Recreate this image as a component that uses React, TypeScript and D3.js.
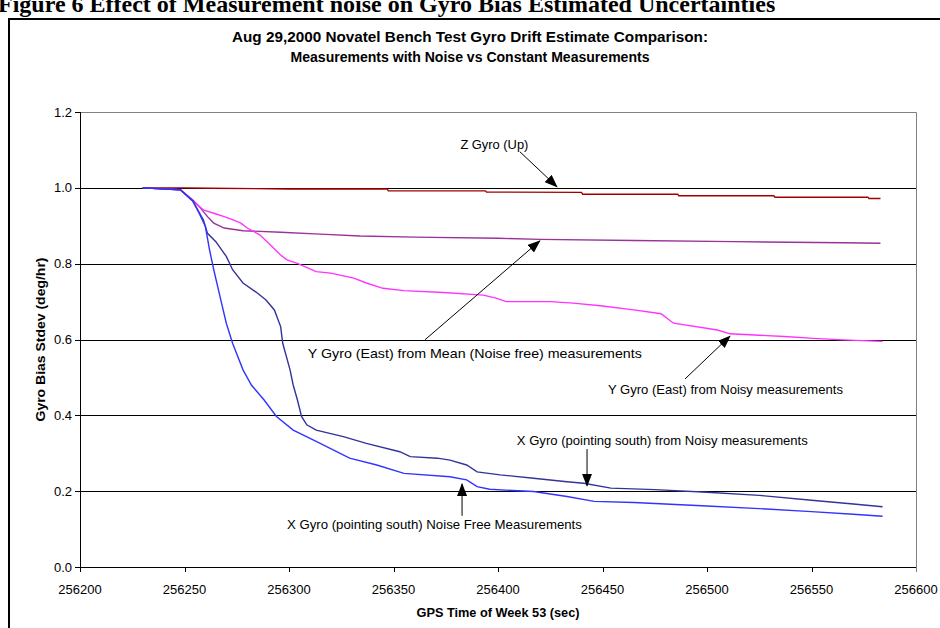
import React from "react";
import * as d3 from "d3";

const xTicks = [256200, 256250, 256300, 256350, 256400, 256450, 256500, 256550, 256600];
const yTicks = [0, 0.2, 0.4, 0.6, 0.8, 1.0, 1.2];

const zGyro: [number, number][] = [
  [256230, 1.0], [256250, 1.0], [256262, 0.999], [256300, 0.997], [256347, 0.997], [256347.5, 0.992],
  [256394, 0.992], [256394.5, 0.989], [256440, 0.988], [256440.5, 0.983], [256486, 0.983], [256486.5, 0.979],
  [256532, 0.979], [256532.5, 0.975], [256577, 0.975], [256577.5, 0.972], [256583, 0.972],
];

const yNoiseFree: [number, number][] = [
  [256230, 1.0], [256248, 0.995], [256254, 0.968], [256257, 0.951], [256261, 0.924], [256264, 0.907],
  [256269, 0.894], [256278, 0.887], [256296, 0.883], [256315, 0.878], [256334, 0.873], [256360, 0.870],
  [256400, 0.867], [256420, 0.864], [256465, 0.861], [256513, 0.858], [256565, 0.855], [256583, 0.854],
];

const yNoisy: [number, number][] = [
  [256230, 1.0], [256248, 0.995], [256254, 0.965], [256259, 0.942], [256264, 0.933], [256269, 0.924],
  [256273, 0.916], [256277, 0.907], [256280, 0.894], [256286, 0.876], [256291, 0.850], [256296, 0.823],
  [256299, 0.810], [256304, 0.801], [256313, 0.779], [256320, 0.775], [256331, 0.762], [256337, 0.749],
  [256345, 0.735], [256355, 0.729], [256374, 0.724], [256393, 0.717], [256399, 0.709], [256404, 0.700],
  [256425, 0.700], [256436, 0.696], [256449, 0.689], [256465, 0.678], [256478, 0.668], [256484, 0.643],
  [256505, 0.625], [256511, 0.615], [256537, 0.608], [256551, 0.603], [256565, 0.599], [256584, 0.595],
];

const xNoisy: [number, number][] = [
  [256230, 1.0], [256248, 0.995], [256254, 0.965], [256259, 0.916], [256261, 0.880], [256265, 0.858],
  [256270, 0.819], [256273, 0.784], [256278, 0.749], [256285, 0.722], [256289, 0.704], [256293, 0.678],
  [256296, 0.634], [256297, 0.590], [256300.5, 0.520], [256302, 0.480], [256304, 0.441], [256306, 0.397],
  [256308.5, 0.375], [256313, 0.361], [256326, 0.344], [256337, 0.326], [256353, 0.304], [256358, 0.291],
  [256371, 0.287], [256377, 0.282], [256385, 0.269], [256390, 0.251], [256401, 0.243], [256417, 0.234],
  [256433, 0.225], [256441, 0.221], [256454, 0.208], [256475, 0.204], [256500, 0.197], [256525, 0.189],
  [256550, 0.176], [256570, 0.166], [256584, 0.159],
];

const xNoiseFree: [number, number][] = [
  [256230, 1.0], [256248, 0.995], [256254, 0.965], [256257, 0.933], [256260, 0.898], [256262, 0.836],
  [256264, 0.784], [256267, 0.713], [256270, 0.643], [256273, 0.590], [256278, 0.520], [256282, 0.480],
  [256288, 0.441], [256294, 0.397], [256302, 0.361], [256313, 0.331], [256329, 0.287], [256342, 0.269],
  [256355, 0.247], [256377, 0.238], [256385, 0.230], [256390, 0.212], [256396, 0.205], [256417, 0.199],
  [256433, 0.186], [256446, 0.173], [256465, 0.170], [256480, 0.166], [256500, 0.161], [256525, 0.154],
  [256550, 0.146], [256570, 0.139], [256584, 0.134],
];

const seriesNames = ["Z Gyro", "Y Noise Free", "Y Noisy", "X Noisy", "X Noise Free"];
const seriesData = [zGyro, yNoiseFree, yNoisy, xNoisy, xNoiseFree];
const seriesColors = ["#A00000", "#993399", "#FF33FF", "#333399", "#3333FF"];

// annotations in data units: label anchor, arrow tail, arrow tip
const annLabels = [
  "Z Gyro (Up)",
  "Y Gyro (East) from Mean (Noise free) measurements",
  "Y Gyro (East) from Noisy measurements",
  "X Gyro (pointing south) from Noisy measurements",
  "X Gyro (pointing south) Noise Free Measurements",
];
const annText: [number, number][] = [
  [256382, 1.103], [256309, 0.552], [256452.6, 0.457], [256409, 0.322], [256299, 0.101],
];
const annWidth = [68, 334, 235, 291, 295];
const annTail: [number, number][] = [
  [256410.5, 1.095], [256365, 0.599], [256489.5, 0.496], [256442.6, 0.311], [256382.8, 0.135],
];
const annTip: [number, number][] = [
  [256428.2, 1.003], [256420, 0.860], [256511, 0.609], [256442.6, 0.214], [256382.8, 0.219],
];

const W = 940;
const H = 628;
const L = 80, R = 916, T = 112, B = 567;

export default function App() {
  const x = d3.scaleLinear().domain([256200, 256600]).range([L, R]);
  const y = d3.scaleLinear().domain([0, 1.2]).range([B, T]);
  const line = d3.line<[number, number]>().x((d) => x(d[0])).y((d) => y(d[1]));
  const font = "Arial, 'Liberation Sans', sans-serif";

  return (
    <svg width={W} height={H} style={{ position: "absolute", left: 0, top: 0, background: "#fff" }} fontFamily={font}>
      <defs>
        <marker id="ah" markerUnits="userSpaceOnUse" markerWidth="13" markerHeight="10" refX="12" refY="5" orient="auto">
          <path d="M0,0 L13,5 L0,10 Z" fill="#000" />
        </marker>
      </defs>
      <rect width={W} height={H} fill="#fff" />
      <text x={-2} y={12} fontFamily="'Liberation Serif', 'Times New Roman', serif" fontWeight="bold" fontSize={24}>
        Figure 6 Effect of Measurement noise on Gyro Bias Estimated Uncertainties
      </text>
      <path d={`M9,${H + 5} V19 H${W + 5}`} fill="none" stroke="#000" strokeWidth={2} />
      <text x={470} y={42} textAnchor="middle" fontWeight="bold" fontSize={14} textLength={476} lengthAdjust="spacingAndGlyphs">
        Aug 29,2000 Novatel Bench Test Gyro Drift Estimate Comparison:
      </text>
      <text x={470} y={62} textAnchor="middle" fontWeight="bold" fontSize={14} textLength={359} lengthAdjust="spacingAndGlyphs">
        Measurements with Noise vs Constant Measurements
      </text>

      {/* plot border */}
      <path d={`M${L},${T + 0.5}H${R + 0.5}V${B}`} fill="none" stroke="#808080" strokeWidth={1} />
      {yTicks.filter((t) => t > 0 && t < 1.2).map((t) => (
        <line key={t} x1={L} x2={R} y1={Math.round(y(t)) + 0.5} y2={Math.round(y(t)) + 0.5} stroke="#000" strokeWidth={1} />
      ))}
      <line x1={L + 0.5} x2={L + 0.5} y1={T} y2={B + 0.5} stroke="#000" />
      <line x1={L} x2={R} y1={B + 0.5} y2={B + 0.5} stroke="#000" />
      {yTicks.map((t) => (
        <g key={t}>
          <line x1={L - 5} x2={L} y1={Math.round(y(t)) + 0.5} y2={Math.round(y(t)) + 0.5} stroke="#000" />
          <text x={L - 8} y={y(t) + 4.5} textAnchor="end" fontSize={13}>{t.toFixed(1)}</text>
        </g>
      ))}
      {xTicks.map((t) => (
        <g key={t}>
          <line x1={Math.round(x(t)) + 0.5} x2={Math.round(x(t)) + 0.5} y1={B} y2={B + 5} stroke={t === 256600 ? "#808080" : "#000"} />
          <text x={x(t)} y={B + 27} textAnchor="middle" fontSize={13}>{t}</text>
        </g>
      ))}
      <text x={498} y={617} textAnchor="middle" fontWeight="bold" fontSize={13} textLength={163} lengthAdjust="spacingAndGlyphs">
        GPS Time of Week 53 (sec)
      </text>
      <text transform={`translate(45,${(T + B) / 2}) rotate(-90)`} textAnchor="middle" fontWeight="bold" fontSize={13} textLength={164} lengthAdjust="spacingAndGlyphs">
        Gyro Bias Stdev (deg/hr)
      </text>

      {seriesData.map((s, i) => (
        <path key={seriesNames[i]} d={line(s) || ""} fill="none" stroke={seriesColors[i]} strokeWidth={1.4} />
      ))}

      {annLabels.map((lab, i) => (
        <g key={lab}>
          <text x={x(annText[i][0])} y={y(annText[i][1])} fontSize={13} textLength={annWidth[i]} lengthAdjust="spacingAndGlyphs">{lab}</text>
          <line x1={x(annTail[i][0])} y1={y(annTail[i][1])} x2={x(annTip[i][0])} y2={y(annTip[i][1])} stroke="#000" strokeWidth={1} markerEnd="url(#ah)" />
        </g>
      ))}
    </svg>
  );
}
